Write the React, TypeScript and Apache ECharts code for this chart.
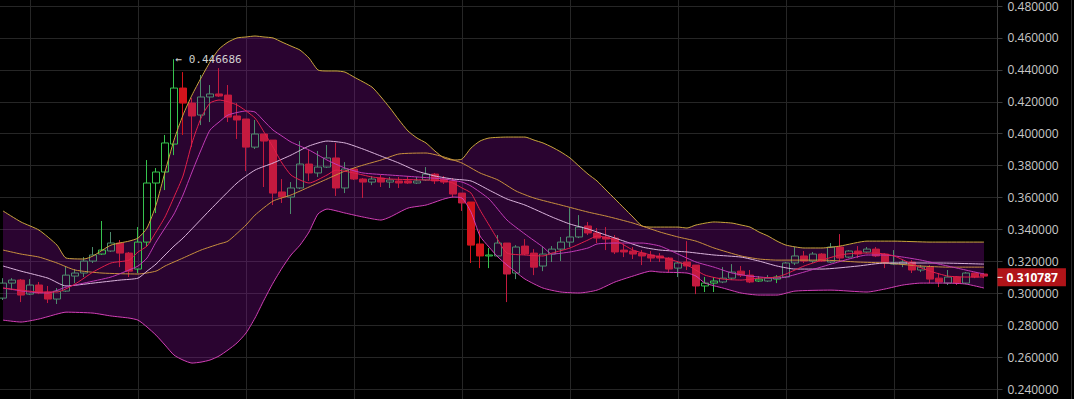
import React, { useEffect, useRef } from 'react';
import * as echarts from 'echarts';

// [open, close, low, high]
const candles: number[][] = [
  [0.2970, 0.3064, 0.2958, 0.3095], [0.3064, 0.3083, 0.3020, 0.3095], [0.3083, 0.2989, 0.2945, 0.3089],
  [0.2995, 0.3052, 0.2989, 0.3089], [0.3052, 0.3002, 0.2995, 0.3071], [0.3008, 0.2964, 0.2939, 0.3046],
  [0.2964, 0.3014, 0.2933, 0.3033], [0.3014, 0.3114, 0.3008, 0.3171], [0.3108, 0.3127, 0.3064, 0.3152],
  [0.3127, 0.3202, 0.3102, 0.3227], [0.3202, 0.3240, 0.3190, 0.3290], [0.3246, 0.3271, 0.3240, 0.3453],
  [0.3265, 0.3315, 0.3259, 0.3384], [0.3315, 0.3252, 0.3164, 0.3334], [0.3252, 0.3139, 0.3102, 0.3259],
  [0.3152, 0.3321, 0.3127, 0.3415], [0.3321, 0.3691, 0.3296, 0.3835], [0.3691, 0.3760, 0.3503, 0.3785],
  [0.3760, 0.3942, 0.3647, 0.3992], [0.3935, 0.4286, 0.3866, 0.446686], [0.4286, 0.4192, 0.3992, 0.4386],
  [0.4192, 0.4111, 0.3916, 0.4223], [0.4117, 0.4230, 0.4054, 0.4368], [0.4230, 0.4249, 0.4073, 0.4305],
  [0.4249, 0.4236, 0.4230, 0.4411], [0.4242, 0.4104, 0.4073, 0.4305], [0.4111, 0.4086, 0.3967, 0.4192],
  [0.4092, 0.3916, 0.3766, 0.4092], [0.3916, 0.3998, 0.3904, 0.4086], [0.3998, 0.3954, 0.3666, 0.3998],
  [0.3960, 0.3628, 0.3553, 0.3960], [0.3635, 0.3603, 0.3566, 0.3716], [0.3603, 0.3660, 0.3497, 0.3697],
  [0.3660, 0.3810, 0.3653, 0.3954], [0.3810, 0.3754, 0.3704, 0.3898], [0.3754, 0.3791, 0.3729, 0.3892],
  [0.3791, 0.3848, 0.3785, 0.3929], [0.3848, 0.3660, 0.3610, 0.3942], [0.3660, 0.3779, 0.3628, 0.3822],
  [0.3779, 0.3716, 0.3710, 0.3785], [0.3716, 0.3697, 0.3597, 0.3722], [0.3697, 0.3716, 0.3678, 0.3735],
  [0.3722, 0.3697, 0.3666, 0.3741], [0.3697, 0.3710, 0.3660, 0.3729], [0.3704, 0.3691, 0.3660, 0.3729],
  [0.3704, 0.3691, 0.3685, 0.3735], [0.3691, 0.3704, 0.3685, 0.3729], [0.3710, 0.3747, 0.3704, 0.3791],
  [0.3747, 0.3704, 0.3685, 0.3754], [0.3716, 0.3697, 0.3685, 0.3735], [0.3704, 0.3622, 0.3603, 0.3722],
  [0.3628, 0.3566, 0.3516, 0.3628], [0.3572, 0.3302, 0.3190, 0.3572], [0.3309, 0.3234, 0.3158, 0.3396],
  [0.3234, 0.3240, 0.3158, 0.3284], [0.3234, 0.3315, 0.3227, 0.3365], [0.3315, 0.3121, 0.2945, 0.3315],
  [0.3127, 0.3290, 0.3089, 0.3302], [0.3296, 0.3246, 0.3240, 0.3340], [0.3252, 0.3164, 0.3114, 0.3277],
  [0.3171, 0.3246, 0.3139, 0.3290], [0.3246, 0.3277, 0.3196, 0.3296], [0.3277, 0.3321, 0.3202, 0.3353],
  [0.3321, 0.3353, 0.3290, 0.3534], [0.3353, 0.3415, 0.3346, 0.3490], [0.3422, 0.3378, 0.3365, 0.3447],
  [0.3378, 0.3346, 0.3315, 0.3409], [0.3353, 0.3340, 0.3271, 0.3415], [0.3346, 0.3259, 0.3246, 0.3365],
  [0.3271, 0.3259, 0.3227, 0.3309], [0.3265, 0.3246, 0.3215, 0.3290], [0.3252, 0.3234, 0.3177, 0.3271],
  [0.3240, 0.3221, 0.3196, 0.3265], [0.3234, 0.3221, 0.3196, 0.3252], [0.3221, 0.3152, 0.3133, 0.3227],
  [0.3158, 0.3190, 0.3102, 0.3196], [0.3196, 0.3171, 0.3146, 0.3327], [0.3177, 0.3046, 0.2995, 0.3177],
  [0.3046, 0.3064, 0.3008, 0.3102], [0.3064, 0.3077, 0.3008, 0.3102], [0.3071, 0.3095, 0.3064, 0.3164],
  [0.3095, 0.3133, 0.3083, 0.3183], [0.3139, 0.3114, 0.3102, 0.3171], [0.3114, 0.3071, 0.3064, 0.3146],
  [0.3077, 0.3089, 0.3071, 0.3108], [0.3077, 0.3095, 0.3071, 0.3114], [0.3089, 0.3102, 0.3064, 0.3114],
  [0.3102, 0.3190, 0.3095, 0.3196], [0.3190, 0.3234, 0.3177, 0.3290], [0.3234, 0.3202, 0.3190, 0.3265],
  [0.3202, 0.3246, 0.3190, 0.3259], [0.3246, 0.3202, 0.3196, 0.3252], [0.3196, 0.3290, 0.3190, 0.3315],
  [0.3290, 0.3221, 0.3196, 0.3371], [0.3227, 0.3265, 0.3221, 0.3271], [0.3265, 0.3246, 0.3221, 0.3296],
  [0.3259, 0.3277, 0.3252, 0.3290], [0.3277, 0.3234, 0.3227, 0.3290], [0.3246, 0.3190, 0.3158, 0.3252],
  [0.3183, 0.3190, 0.3177, 0.3271], [0.3183, 0.3196, 0.3164, 0.3208], [0.3196, 0.3146, 0.3127, 0.3208],
  [0.3146, 0.3164, 0.3133, 0.3177], [0.3164, 0.3089, 0.3064, 0.3177], [0.3095, 0.3071, 0.3039, 0.3127],
  [0.3064, 0.3102, 0.3052, 0.3146], [0.3102, 0.3064, 0.3052, 0.3108], [0.3064, 0.3127, 0.3058, 0.3133],
  [0.3127, 0.3102, 0.3095, 0.3127], [0.3121, 0.310787, 0.3095, 0.3127],
];

const lastPrice = 0.310787;
const highPrice = 0.446686;
const highIndex = 19;

const brightUp = [11, 15, 16, 17, 18, 19, 54, 78, 79, 84, 86];
const brightDown = [20, 52, 53];

// [candle index, value]
const upperBand: number[][] = [
  [0, 0.3516], [2, 0.3447], [4, 0.3396], [6, 0.3302], [7, 0.3221], [9, 0.3215], [10, 0.3234], [12, 0.3302],
  [14, 0.3327], [15, 0.3346], [16, 0.3409], [17, 0.3553], [18, 0.3760], [19, 0.3960], [20, 0.4117], [21, 0.4242],
  [22, 0.4349], [23, 0.4449], [24, 0.4530], [25, 0.4574], [26, 0.4600], [27, 0.4606], [28, 0.4612], [29, 0.4606],
  [30, 0.4600], [31, 0.4574], [32, 0.4549], [33, 0.4524], [34, 0.4474], [35, 0.4399], [36, 0.4393], [37, 0.4393],
  [38, 0.4386], [39, 0.4355], [41, 0.4292], [42, 0.4230], [43, 0.4161], [44, 0.4086], [45, 0.4017], [46, 0.3973],
  [47, 0.3942], [48, 0.3891], [49, 0.3848], [50, 0.3835], [51, 0.3841], [52, 0.3910], [53, 0.3954], [54, 0.3973],
  [56, 0.3979], [58, 0.3979], [59, 0.3960], [60, 0.3942], [61, 0.3916], [62, 0.3885], [63, 0.3848], [64, 0.3797],
  [65, 0.3747], [66, 0.3704], [67, 0.3647], [68, 0.3591], [69, 0.3534], [70, 0.3478], [71, 0.3422], [72, 0.3415],
  [75, 0.3415], [76, 0.3409], [77, 0.3428], [79, 0.3447], [81, 0.3440], [82, 0.3428], [83, 0.3415], [84, 0.3384],
  [85, 0.3359], [86, 0.3327], [87, 0.3302], [89, 0.3284], [91, 0.3284], [93, 0.3296], [96, 0.3327], [99, 0.3327],
  [103, 0.3321], [109, 0.3321],
];

const lowerBand: number[][] = [
  [0, 0.2832], [2, 0.2820], [4, 0.2839], [6, 0.2870], [7, 0.2882], [10, 0.2876], [12, 0.2858], [14, 0.2845],
  [15, 0.2832], [16, 0.2789], [17, 0.2738], [18, 0.2676], [19, 0.2613], [20, 0.2582], [21, 0.2563], [22, 0.2569],
  [23, 0.2582], [24, 0.2607], [25, 0.2645], [26, 0.2689], [27, 0.2751], [28, 0.2845], [29, 0.2958], [30, 0.3064],
  [31, 0.3158], [32, 0.3240], [33, 0.3302], [34, 0.3384], [35, 0.3497], [36, 0.3528], [38, 0.3503], [40, 0.3478],
  [42, 0.3459], [43, 0.3478], [45, 0.3534], [47, 0.3553], [49, 0.3591], [50, 0.3603], [51, 0.3597], [52, 0.3509],
  [53, 0.3359], [54, 0.3290], [55, 0.3227], [56, 0.3177], [57, 0.3133], [58, 0.3089], [60, 0.3033], [62, 0.3008],
  [64, 0.3002], [66, 0.3020], [68, 0.3071], [70, 0.3108], [72, 0.3139], [73, 0.3133], [76, 0.3127], [77, 0.3108],
  [78, 0.3064], [80, 0.3033], [82, 0.3002], [84, 0.2989], [86, 0.2989], [88, 0.3014], [92, 0.3020], [96, 0.3008],
  [98, 0.3027], [100, 0.3052], [102, 0.3064], [105, 0.3064], [107, 0.3058], [109, 0.3033],
];

const maFast: number[][] = [
  [0, 0.3033], [2, 0.3020], [4, 0.3008], [6, 0.3008], [8, 0.3058], [10, 0.3133], [12, 0.3190], [14, 0.3208],
  [15, 0.3259], [16, 0.3296], [17, 0.3384], [18, 0.3478], [19, 0.3603], [20, 0.3735], [21, 0.3942], [22, 0.4098],
  [23, 0.4192], [24, 0.4211], [26, 0.4180], [28, 0.4098], [29, 0.4010], [30, 0.3916], [31, 0.3816], [32, 0.3741],
  [33, 0.3710], [34, 0.3691], [36, 0.3741], [37, 0.3772], [39, 0.3754], [41, 0.3729], [43, 0.3716], [47, 0.3710],
  [49, 0.3704], [50, 0.3691], [51, 0.3660], [52, 0.3628], [53, 0.3522], [54, 0.3428], [55, 0.3334], [56, 0.3252],
  [58, 0.3240], [60, 0.3234], [61, 0.3252], [63, 0.3284], [65, 0.3334], [66, 0.3359], [68, 0.3334], [70, 0.3271],
  [72, 0.3240], [74, 0.3215], [76, 0.3177], [78, 0.3114], [80, 0.3089], [82, 0.3083], [84, 0.3095], [86, 0.3102],
  [87, 0.3121], [89, 0.3171], [91, 0.3208], [93, 0.3240], [95, 0.3252], [97, 0.3252], [99, 0.3234], [101, 0.3183],
  [103, 0.3139], [105, 0.3108], [107, 0.3102], [109, 0.3102],
];

const maMid: number[][] = [
  [0, 0.3033], [3, 0.3008], [5, 0.3002], [7, 0.3039], [9, 0.3064], [12, 0.3102], [14, 0.3146], [15, 0.3171],
  [16, 0.3221], [17, 0.3321], [18, 0.3409], [19, 0.3497], [20, 0.3616], [21, 0.3760], [22, 0.3898], [23, 0.4023],
  [24, 0.4073], [25, 0.4117], [27, 0.4142], [28, 0.4136], [29, 0.4079], [30, 0.4023], [31, 0.3985], [32, 0.3948],
  [34, 0.3898], [36, 0.3835], [38, 0.3785], [40, 0.3754], [43, 0.3741], [46, 0.3729], [49, 0.3716], [51, 0.3697],
  [52, 0.3672], [54, 0.3591], [56, 0.3459], [58, 0.3371], [60, 0.3290], [61, 0.3246], [63, 0.3259], [65, 0.3284],
  [66, 0.3309], [68, 0.3315], [71, 0.3315], [73, 0.3296], [75, 0.3246], [77, 0.3196], [79, 0.3164], [81, 0.3127],
  [83, 0.3108], [86, 0.3095], [87, 0.3102], [89, 0.3133], [92, 0.3183], [94, 0.3215], [96, 0.3240], [98, 0.3240],
  [100, 0.3227], [102, 0.3208], [104, 0.3183], [106, 0.3158], [108, 0.3133], [109, 0.3121],
];

const maLight: number[][] = [
  [0, 0.3171], [2, 0.3139], [5, 0.3095], [7, 0.3046], [10, 0.3064], [13, 0.3083], [15, 0.3095], [16, 0.3139],
  [17, 0.3183], [18, 0.3240], [19, 0.3296], [20, 0.3346], [23, 0.3522], [26, 0.3691], [28, 0.3772], [30, 0.3816],
  [32, 0.3866], [34, 0.3923], [36, 0.3954], [38, 0.3942], [40, 0.3904], [42, 0.3860], [44, 0.3816], [46, 0.3766],
  [48, 0.3735], [50, 0.3716], [52, 0.3704], [54, 0.3647], [56, 0.3591], [58, 0.3553], [61, 0.3478], [63, 0.3434],
  [65, 0.3403], [67, 0.3365], [69, 0.3327], [71, 0.3290], [73, 0.3271], [76, 0.3259], [79, 0.3240], [82, 0.3227],
  [84, 0.3202], [86, 0.3171], [88, 0.3152], [91, 0.3152], [95, 0.3171], [98, 0.3190], [104, 0.3190], [109, 0.3183],
];

const maSlow: number[][] = [
  [0, 0.3271], [2, 0.3246], [4, 0.3227], [6, 0.3190], [8, 0.3146], [11, 0.3127], [15, 0.3121], [17, 0.3139],
  [18, 0.3171], [20, 0.3221], [22, 0.3271], [24, 0.3309], [25, 0.3327], [27, 0.3428], [28, 0.3490], [30, 0.3578],
  [32, 0.3616], [34, 0.3666], [36, 0.3716], [38, 0.3766], [40, 0.3803], [42, 0.3835], [44, 0.3873], [47, 0.3879],
  [49, 0.3854], [51, 0.3816], [53, 0.3754], [55, 0.3710], [57, 0.3641], [59, 0.3597], [62, 0.3553], [65, 0.3509],
  [67, 0.3484], [70, 0.3440], [73, 0.3384], [75, 0.3353], [77, 0.3327], [79, 0.3284], [82, 0.3234], [84, 0.3215],
  [86, 0.3208], [91, 0.3208], [95, 0.3196], [98, 0.3190], [102, 0.3171], [105, 0.3164], [109, 0.3164],
];

// one spare slot after the last candle for right padding
const categories: string[] = candles.map((_, i) => String(i)).concat(['']);

const Y_MIN = 0.22;
const Y_MAX = 0.5;
const Y_STEP = 0.02;

export default function App() {
  const ref = useRef<HTMLDivElement>(null);

  useEffect(() => {
    document.body.style.margin = '0';
    document.body.style.background = '#000';
    const chart = echarts.init(ref.current!, null, { renderer: 'svg' });

    const upCol = '#4d8b6d';
    const upBright = '#36c44e';
    const downCol = '#c41a3f';
    const downBright = '#d4141c';

    const candleData = candles.map((c, i) => {
      if (brightUp.includes(i)) return { value: c, itemStyle: { borderColor: upBright } };
      if (brightDown.includes(i)) return { value: c, itemStyle: { color0: downBright, borderColor0: downBright } };
      return c;
    });

    const lineSeries = (data: number[][], color: string) => ({
      type: 'line',
      data,
      symbol: 'none',
      showSymbol: false,
      smooth: 0.2,
      silent: true,
      z: 4,
      lineStyle: { color, width: 1 },
    });

    const option: any = {
      animation: false,
      backgroundColor: '#000000',
      grid: {
        left: -1.5,
        top: -25.9,
        width: 999,
        height: 446.9,
        containLabel: false,
        outerBoundsMode: 'none',
      },
      xAxis: {
        type: 'category',
        data: categories,
        boundaryGap: true,
        axisLine: { show: false },
        axisTick: { show: false, alignWithLabel: true },
        axisLabel: { show: false },
        splitLine: {
          show: true,
          alignWithLabel: true,
          interval: (i: number) => i % 12 === 3,
          lineStyle: { color: '#262626', width: 1 },
        },
      },
      yAxis: {
        type: 'value',
        position: 'right',
        min: Y_MIN,
        max: Y_MAX,
        interval: Y_STEP,
        axisLine: { show: true, lineStyle: { color: '#3a3a3a' } },
        axisTick: { show: true, length: 5, lineStyle: { color: '#3a3a3a' } },
        axisLabel: {
          color: '#c8c8c8',
          fontFamily: 'Open Sans',
          fontSize: 12,
          margin: 10,
          showMinLabel: false,
          showMaxLabel: false,
          formatter: (v: number) => v.toFixed(6),
        },
        splitLine: { show: true, lineStyle: { color: '#262626', width: 1 } },
      },
      graphic: [
        {
          type: 'line',
          shape: { x1: 1071.5, y1: 0, x2: 1071.5, y2: 399 },
          style: { stroke: '#2a2a2a', lineWidth: 1 },
          silent: true,
        },
      ],
      series: [
        {
          type: 'custom',
          silent: true,
          z: 1,
          data: [[0, Y_MIN]],
          renderItem: (_params: any, api: any) => {
            const top = upperBand.map(([i, v]) => api.coord([i, v]));
            const bottom = lowerBand.slice().reverse().map(([i, v]) => api.coord([i, v]));
            return {
              type: 'polygon',
              shape: { points: top.concat(bottom) },
              style: { fill: 'rgba(140,13,160,0.3)', stroke: 'none' },
            };
          },
        },
        {
          type: 'candlestick',
          data: candleData,
          barWidth: 7,
          z: 3,
          itemStyle: {
            color: 'transparent',
            color0: downCol,
            borderColor: upCol,
            borderColor0: downCol,
            borderWidth: 1,
          },
          markPoint: {
            silent: true,
            symbol: 'circle',
            symbolSize: 1,
            itemStyle: { color: 'transparent' },
            data: [{ coord: [highIndex, highPrice], value: highPrice }],
            label: {
              show: true,
              position: 'right',
              distance: 1,
              formatter: '\u2190 ' + highPrice.toFixed(6),
              color: '#d0d0d0',
              fontFamily: 'DejaVu Sans Mono',
              fontSize: 11,
            },
          },
        },
        {
          type: 'line',
          data: [],
          silent: true,
          z: 10,
          markLine: {
            silent: true,
            symbol: ['none', 'none'],
            data: [{ yAxis: lastPrice }],
            lineStyle: { width: 0, color: 'rgba(0,0,0,0)' },
            label: {
              show: true,
              position: 'end',
              distance: 0,
              formatter: '{t|}{g|}{v|' + lastPrice.toFixed(6) + '}',
              backgroundColor: '#b01419',
              padding: [2, 8, 2, 0],
              rich: {
                t: { width: 5, height: 1, backgroundColor: '#ffffff' },
                g: { width: 4, height: 1 },
                v: {
                  color: '#ffffff',
                  fontFamily: 'Open Sans',
                  fontWeight: 'bold',
                  fontSize: 12,
                  lineHeight: 14,
                },
              },
            },
          },
        },
        lineSeries(upperBand, '#c9a63c'),
        lineSeries(lowerBand, '#d23fb6'),
        lineSeries(maSlow, '#c8903e'),
        lineSeries(maLight, '#dab4dc'),
        lineSeries(maMid, '#c13ab6'),
        lineSeries(maFast, '#e21f4a'),
      ],
    };

    chart.setOption(option);
    return () => chart.dispose();
  }, []);

  return <div ref={ref} style={{ width: 1074, height: 399, background: '#000' }} />;
}
